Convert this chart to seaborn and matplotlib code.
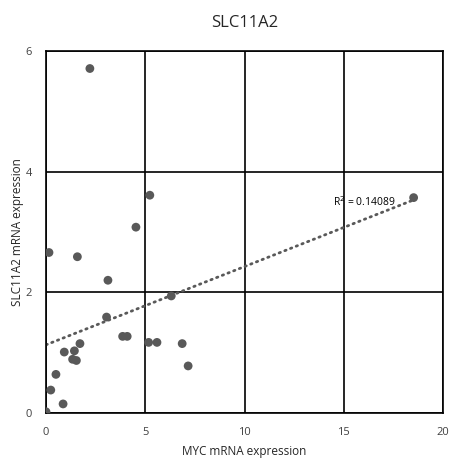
import numpy as np
import pandas as pd
import matplotlib
matplotlib.use("Agg")
import matplotlib.pyplot as plt
import seaborn as sns

# MYC vs SLC11A2 expression per sample
myc = [2.21, 0.15, 1.58, 3.12, 4.53, 5.23, 6.31, 3.05, 3.86, 4.09,
       5.17, 5.59, 6.86, 7.16, 1.71, 0.92, 1.43, 1.34, 1.53, 0.50,
       0.24, 0.86, 0.00, 18.52]
slc11a2 = [5.71, 2.66, 2.59, 2.20, 3.08, 3.61, 1.94, 1.59, 1.27, 1.27,
           1.17, 1.17, 1.15, 0.78, 1.15, 1.01, 1.03, 0.89, 0.87, 0.64,
           0.38, 0.15, 0.02, 3.57]
x_ticks = [0, 5, 10, 15, 20]
y_ticks = [0, 2, 4, 6]

# linear trend line (as reported with the fit)
trend_intercept = 1.13
trend_slope = 0.1297
r2_label = "R$^2$ = 0.14089"

df = pd.DataFrame({"MYC": myc, "SLC11A2": slc11a2})

sns.set_style("white")
plt.rcParams["font.family"] = ["Open Sans", "DejaVu Sans"]

fig = plt.figure(figsize=(4.52, 4.58), dpi=100)
ax = fig.add_axes([0.1018, 0.0983, 0.8783, 0.7903])

grey = "#595959"
sns.scatterplot(data=df, x="MYC", y="SLC11A2", ax=ax, color=grey,
                s=40, edgecolor="none", zorder=3)

xs = np.array([0, df["MYC"].max()])
ax.plot(xs, trend_intercept + trend_slope * xs, linestyle=(0, (0.5, 1.7)),
        color=grey, linewidth=2.0, dash_capstyle="round", zorder=2)
ax.text(14.45, 3.50, r2_label, fontsize=7.5, va="center", ha="left",
        color="black", zorder=4)

ax.set_xlim(0, 20)
ax.set_ylim(0, 6)
ax.set_xticks(x_ticks)
ax.set_yticks(y_ticks)
ax.grid(True, color="black", linewidth=1.2)
ax.set_axisbelow(True)
for sp in ax.spines.values():
    sp.set_visible(True)
    sp.set_color("black")
    sp.set_linewidth(1.2)
ax.tick_params(length=0, labelsize=8, pad=10)
ax.set_xlabel("MYC mRNA expression", fontsize=8.5, labelpad=5)
ax.set_ylabel("SLC11A2 mRNA expression", fontsize=8.5, labelpad=1)
ax.set_title("SLC11A2", fontsize=12, pad=17)
for lab in ax.get_xticklabels() + ax.get_yticklabels():
    lab.set_color("#404040")

fig.savefig("out.png", dpi=100)
